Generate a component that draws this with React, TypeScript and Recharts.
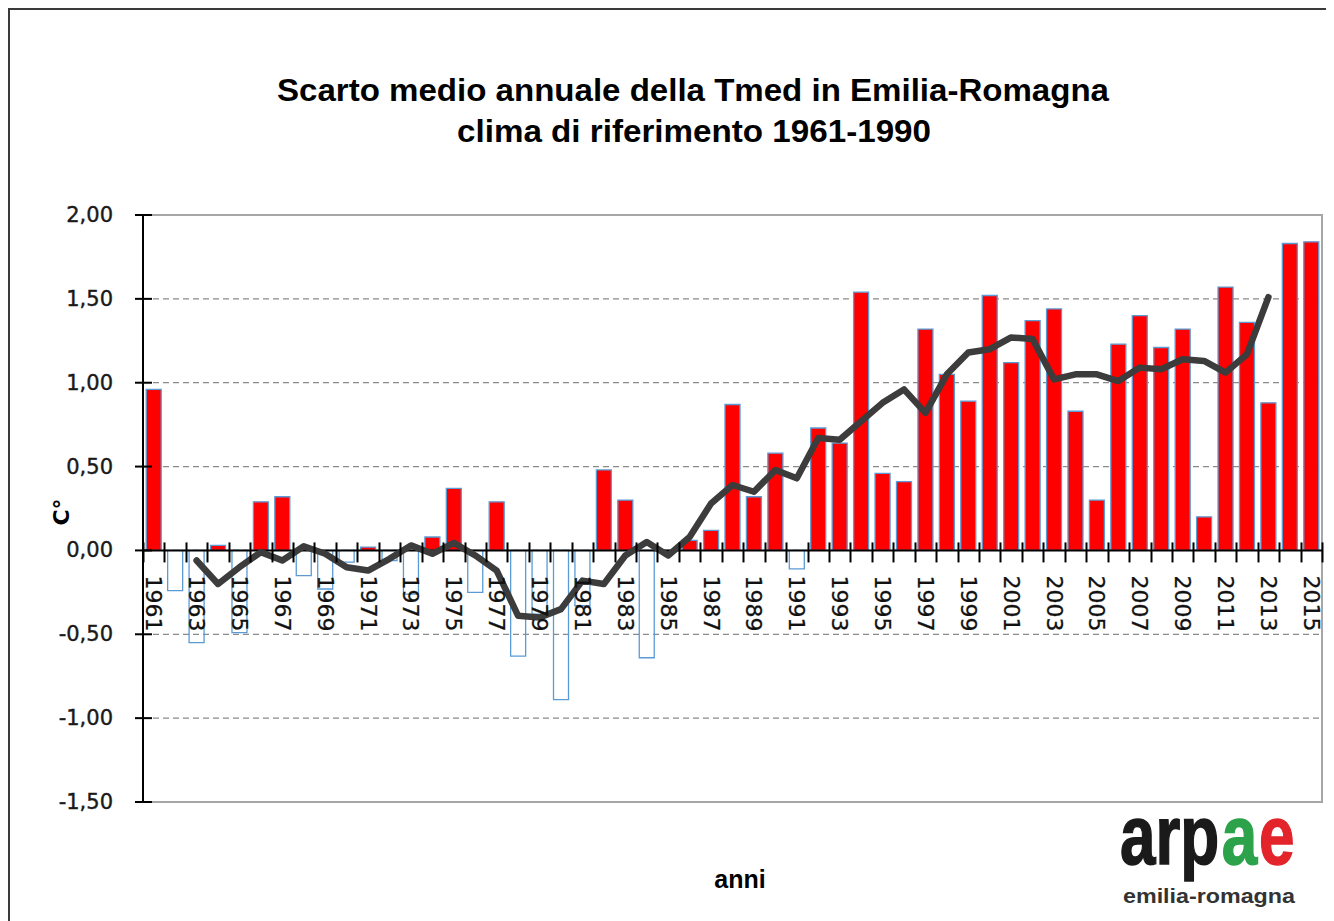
import { ComposedChart, Bar, Line, Cell, XAxis, YAxis, CartesianGrid, ReferenceLine, ReferenceArea } from "recharts";

// anni 1961-2015
const years: number[] = [
    1961, 1962, 1963, 1964, 1965, 1966, 1967, 1968, 1969, 1970,
    1971, 1972, 1973, 1974, 1975, 1976, 1977, 1978, 1979, 1980,
    1981, 1982, 1983, 1984, 1985, 1986, 1987, 1988, 1989, 1990,
    1991, 1992, 1993, 1994, 1995, 1996, 1997, 1998, 1999, 2000,
    2001, 2002, 2003, 2004, 2005, 2006, 2007, 2008, 2009, 2010,
    2011, 2012, 2013, 2014, 2015,
];

// scarto annuale della Tmed (°C)
const anomalies: number[] = [
    0.96, -0.24, -0.55, 0.03, -0.49, 0.29, 0.32, -0.15, -0.23, -0.07,
    0.02, -0.06, -0.26, 0.08, 0.37, -0.25, 0.29, -0.63, -0.38, -0.89,
    -0.33, 0.48, 0.30, -0.64, -0.01, 0.06, 0.12, 0.87, 0.32, 0.58,
    -0.11, 0.73, 0.64, 1.54, 0.46, 0.41, 1.32, 1.05, 0.89, 1.52,
    1.12, 1.37, 1.44, 0.83, 0.30, 1.23, 1.40, 1.21, 1.32, 0.20,
    1.57, 1.36, 0.88, 1.83, 1.84,
];

// media mobile (linea nera), null dove non tracciata
const movingAvg: (number | null)[] = [
    null, null, -0.06, -0.20, -0.10, -0.01, -0.06, 0.025, -0.02, -0.10,
    -0.12, -0.05, 0.03, -0.02, 0.045, -0.03, -0.12, -0.39, -0.40, -0.35,
    -0.18, -0.20, -0.03, 0.05, -0.03, 0.08, 0.28, 0.39, 0.35, 0.48,
    0.43, 0.67, 0.66, 0.77, 0.88, 0.96, 0.82, 1.05, 1.18, 1.20,
    1.27, 1.26, 1.02, 1.05, 1.05, 1.01, 1.09, 1.08, 1.14, 1.13,
    1.06, 1.17, 1.51, null, null,
];

const yTicks: number[] = [-1.5, -1, -0.5, 0, 0.5, 1, 1.5, 2];

const W = 1326;
const H = 913;
const MARGIN = { top: 207, right: 12, bottom: 109, left: 55 };
const Y_AXIS_W = 80;
const X_AXIS_H = 10;
const Y_MIN = -1.5;
const Y_MAX = 2;
const PLOT_W = W - MARGIN.left - MARGIN.right - Y_AXIS_W;
const PLOT_H = H - MARGIN.top - MARGIN.bottom - X_AXIS_H;
const ZERO_Y = MARGIN.top + (PLOT_H * Y_MAX) / (Y_MAX - Y_MIN);

const data = years.map((y, i) => ({ year: y, v: anomalies[i], ma: movingAvg[i] }));

const fmt = (v: number) => v.toFixed(2).replace(".", ",");

const XTick = (props: any) => {
    const { x, payload, index } = props;
    const cx = Number(x);
    const band = PLOT_W / years.length;
    const year = Number(payload.value);
    const left = Math.round(cx - band / 2) + 0.5;
    const right = Math.round(cx + band / 2) + 0.5;
    return (
        <g>
            <path d={`M${left},${ZERO_Y - 8}V${ZERO_Y + 12}`} stroke="#000" strokeWidth={2} fill="none" />
            {index === years.length - 1 && (
                <path d={`M${right},${ZERO_Y - 8}V${ZERO_Y + 12}`} stroke="#000" strokeWidth={2} fill="none" />
            )}
            {year % 2 === 1 && (
                <text
                    transform={`translate(${cx}, ${ZERO_Y + 25}) rotate(90)`}
                    textAnchor="start"
                    dominantBaseline="central"
                    fontSize={22}
                    fontFamily="DejaVu Sans"
                    fill="#111"
                    stroke="#111"
                    strokeWidth={0.3}
                >
                    {year}
                </text>
            )}
        </g>
    );
};

const YTick = (props: any) => {
    const { x, y, payload } = props;
    const axisX = Number(x) + 30;
    return (
        <g>
            <path d={`M${axisX - 8},${y}H${axisX + 9}`} stroke="#000" strokeWidth={2} fill="none" />
            <text
                x={x}
                y={y}
                textAnchor="end"
                dominantBaseline="central"
                fontSize={21}
                fontFamily="DejaVu Sans"
                fill="#1a1a1a"
                stroke="#1a1a1a"
                strokeWidth={0.4}
            >
                {fmt(Number(payload.value))}
            </text>
        </g>
    );
};

export default function App() {
    return (
        <div style={{ position: "relative", width: W, height: H, overflow: "hidden", background: "#fff" }}>
            <div
                style={{
                    position: "absolute",
                    left: 0,
                    top: 0,
                    width: W + 40,
                    height: H + 40,
                    border: "2px solid #3a3a3a",
                    boxSizing: "border-box",
                }}
            />
            <ComposedChart
                width={W}
                height={H}
                data={data}
                margin={MARGIN}
                barCategoryGap="15%"
                style={{ position: "absolute", left: 0, top: 0 }}
            >
                <CartesianGrid horizontal={true} vertical={false} stroke="#8a8a8a" strokeDasharray="6 4" strokeWidth={1.2} />
                <ReferenceArea y1={Y_MIN} y2={Y_MAX} fill="none" stroke="#a6a6a6" strokeWidth={2} />
                <XAxis
                    dataKey="year"
                    type="category"
                    interval={0}
                    height={X_AXIS_H}
                    axisLine={false}
                    tickLine={false}
                    tick={(p: any) => <XTick {...p} />}
                />
                <YAxis
                    width={Y_AXIS_W}
                    domain={[Y_MIN, Y_MAX]}
                    ticks={yTicks}
                    interval={0}
                    axisLine={{ stroke: "#000", strokeWidth: 2 }}
                    tickLine={false}
                    tickSize={0}
                    tickMargin={30}
                    tick={(p: any) => <YTick {...p} />}
                />
                <Bar dataKey="v" isAnimationActive={false} stroke="#5b9bd5" strokeWidth={1.3}>
                    {data.map((d, i) => (
                        <Cell key={i} fill={d.v >= 0 ? "#ff0000" : "none"} />
                    ))}
                </Bar>
                <ReferenceLine y={0} stroke="#000" strokeWidth={2} />
                <Line
                    dataKey="ma"
                    type="linear"
                    stroke="#3c3c3c"
                    strokeWidth={6.5}
                    dot={false}
                    activeDot={false}
                    strokeLinejoin="round"
                    strokeLinecap="round"
                    isAnimationActive={false}
                />
            </ComposedChart>
            <svg width={W} height={H} style={{ position: "absolute", left: 0, top: 0, pointerEvents: "none" }}>
                <text
                    x={685}
                    y={93}
                    textAnchor="middle"
                    fontFamily="'Liberation Sans Narrow', 'Liberation Sans', Arial, sans-serif"
                    fontWeight="bold"
                    fontSize={31}
                    textLength={832}
                    lengthAdjust="spacingAndGlyphs"
                    fill="#000"
                >
                    Scarto medio annuale della  Tmed in Emilia-Romagna
                </text>
                <text
                    x={686}
                    y={134}
                    textAnchor="middle"
                    fontFamily="'Liberation Sans Narrow', 'Liberation Sans', Arial, sans-serif"
                    fontWeight="bold"
                    fontSize={31}
                    textLength={474}
                    lengthAdjust="spacingAndGlyphs"
                    fill="#000"
                >
                    clima di riferimento  1961-1990
                </text>
                <text
                    transform="translate(53, 504) rotate(-90)"
                    textAnchor="middle"
                    dominantBaseline="central"
                    fontFamily="DejaVu Sans"
                    fontWeight="bold"
                    fontSize={22}
                    fill="#000"
                >
                    C°
                </text>
                <text
                    x={732}
                    y={880}
                    textAnchor="middle"
                    fontFamily="'Liberation Sans', Arial, sans-serif"
                    fontWeight="bold"
                    fontSize={25}
                    fill="#000"
                >
                    anni
                </text>
                <g
                    transform="translate(1112, 856) scale(0.76, 1)"
                    fontFamily="'Liberation Sans', Arial, sans-serif"
                    fontWeight="bold"
                    fontSize={84}
                    strokeWidth={1.5}
                >
                    <text x={0} y={0} fill="#1a1a1a" stroke="#1a1a1a">arp</text>
                    <text x={134} y={0} fill="#2ca24a" stroke="#2ca24a">a</text>
                    <text x={183} y={0} fill="#e3242b" stroke="#e3242b">e</text>
                </g>
                <text
                    x={1115}
                    y={895}
                    fontFamily="'Liberation Sans', Arial, sans-serif"
                    fontWeight="bold"
                    fontSize={21}
                    textLength={172}
                    lengthAdjust="spacingAndGlyphs"
                    fill="#333"
                >
                    emilia-romagna
                </text>
            </svg>
        </div>
    );
}
